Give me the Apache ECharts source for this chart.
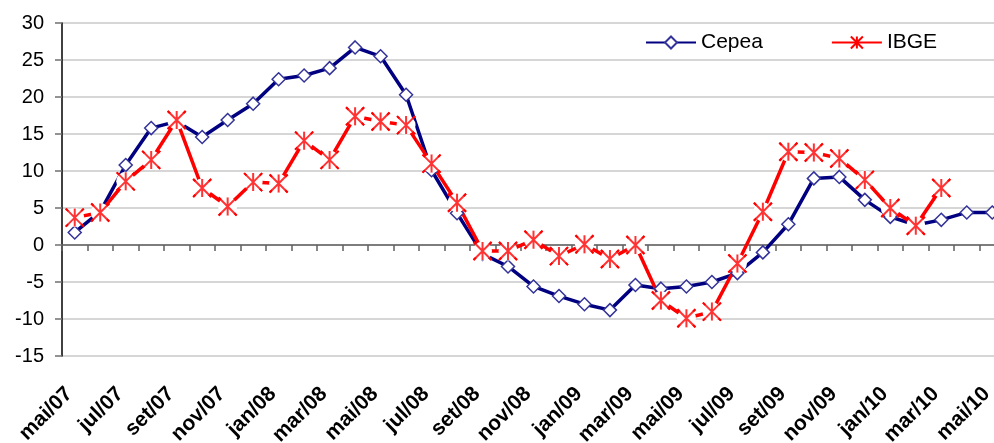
<!DOCTYPE html>
<html>
<head>
<meta charset="utf-8">
<script src="https://cdn.jsdelivr.net/npm/echarts@6/dist/echarts.min.js"></script>
<style>
  html, body { margin: 0; padding: 0; background: #fff; overflow: hidden; }
  #chart { width: 994px; height: 443px; }
</style>
</head>
<body>
<div id="chart"></div>
<script>
// mai/07 .. mai/10, one point per month
const months = [
  'mai/07', 'jun/07', 'jul/07', 'ago/07', 'set/07', 'out/07', 'nov/07', 'dez/07',
  'jan/08', 'fev/08', 'mar/08', 'abr/08', 'mai/08', 'jun/08', 'jul/08', 'ago/08',
  'set/08', 'out/08', 'nov/08', 'dez/08', 'jan/09', 'fev/09', 'mar/09', 'abr/09',
  'mai/09', 'jun/09', 'jul/09', 'ago/09', 'set/09', 'out/09', 'nov/09', 'dez/09',
  'jan/10', 'fev/10', 'mar/10', 'abr/10', 'mai/10'
];

const cepea = [
  1.7, 4.5, 10.8, 15.8, 16.7, 14.6, 16.9, 19.1,
  22.4, 22.9, 23.9, 26.7, 25.5, 20.3, 10.1, 4.3,
  -1.2, -2.9, -5.6, -6.9, -8.0, -8.8, -5.4, -5.9,
  -5.6, -5.0, -3.8, -1.0, 2.8, 9.0, 9.2, 6.1,
  3.8, 2.7, 3.4, 4.4, 4.4
];

const ibge = [
  3.7, 4.4, 8.6, 11.5, 16.9, 7.7, 5.2, 8.5,
  8.3, 14.1, 11.5, 17.4, 16.7, 16.2, 11.0, 5.7,
  -0.8, -0.8, 0.7, -1.5, 0.1, -1.9, 0.0, -7.5,
  -9.9, -9.0, -2.5, 4.5, 12.6, 12.5, 11.7, 8.8,
  5.0, 2.6, 7.7, null, null
];

const yTicks = { min: -15, max: 30, step: 5 };

const starPath = 'path://M0,0L10,10M10,0L0,10M5,0L5,10';
const font = "'Liberation Sans', Arial, sans-serif";

const chart = echarts.init(document.getElementById('chart'));

chart.setOption({
  animation: false,
  textStyle: { fontFamily: font },
  // plot runs past the right edge, the last month is cut in half
  grid: {
    left: 62, width: 943, top: 23, bottom: 87,
    containLabel: false,
    outerBoundsMode: 'none'
  },
  legend: {
    left: 640,
    top: 27,
    itemWidth: 50,
    itemHeight: 15,
    itemGap: 68,
    data: ['Cepea', 'IBGE'],
    textStyle: { fontSize: 21, color: '#000', fontFamily: font }
  },
  xAxis: [
    {
      type: 'category',
      data: months,
      position: 'bottom',
      axisLine: { show: false, onZero: false },
      axisTick: { show: false },
      axisLabel: {
        interval: 1,
        rotate: 45,
        margin: 29,
        padding: [0, 8, 0, 0],
        fontSize: 21,
        fontWeight: 'bold',
        color: '#000',
        fontFamily: font
      }
    },
    {
      type: 'category',
      data: months,
      position: 'bottom',
      axisLine: { onZero: true, lineStyle: { color: '#606060', width: 1.5 } },
      axisTick: { show: true, interval: 0, length: 6, lineStyle: { color: '#606060', width: 1.5 } },
      axisLabel: { show: false }
    }
  ],
  yAxis: {
    type: 'value',
    min: yTicks.min,
    max: yTicks.max,
    interval: yTicks.step,
    axisLine: { show: true, lineStyle: { color: '#000', width: 1.5 } },
    axisTick: { show: true, length: 7, lineStyle: { color: '#707070', width: 1.5 } },
    axisLabel: { margin: 18, fontSize: 20, color: '#000', fontFamily: font },
    splitLine: { lineStyle: { color: '#c8c8c8', width: 1.5 } }
  },
  series: [
    {
      name: 'Cepea',
      type: 'line',
      data: cepea,
      z: 2,
      symbol: 'diamond',
      symbolSize: 13,
      showAllSymbol: true,
      lineStyle: { color: '#000080', width: 3.5 },
      itemStyle: { color: '#fff', borderColor: '#333399', borderWidth: 1.5 }
    },
    {
      name: 'IBGE',
      type: 'line',
      data: ibge,
      z: 2,
      symbol: starPath,
      symbolSize: 18,
      showAllSymbol: true,
      lineStyle: { color: '#ff0000', width: 3.5 },
      itemStyle: { color: '#ff0000', borderColor: '#ff0000', borderWidth: 2 }
    },
    {
      // white halo round the IBGE markers, as in the original
      name: 'halo',
      type: 'scatter',
      data: ibge,
      z: 3,
      silent: true,
      symbol: 'circle',
      symbolSize: 19,
      itemStyle: { color: '#fff', opacity: 1 }
    },
    {
      name: 'stars',
      type: 'scatter',
      data: ibge,
      z: 4,
      silent: true,
      symbol: starPath,
      symbolSize: 18,
      itemStyle: { color: '#ff0000', borderColor: '#ff0000', borderWidth: 2 }
    }
  ]
});
</script>
</body>
</html>
